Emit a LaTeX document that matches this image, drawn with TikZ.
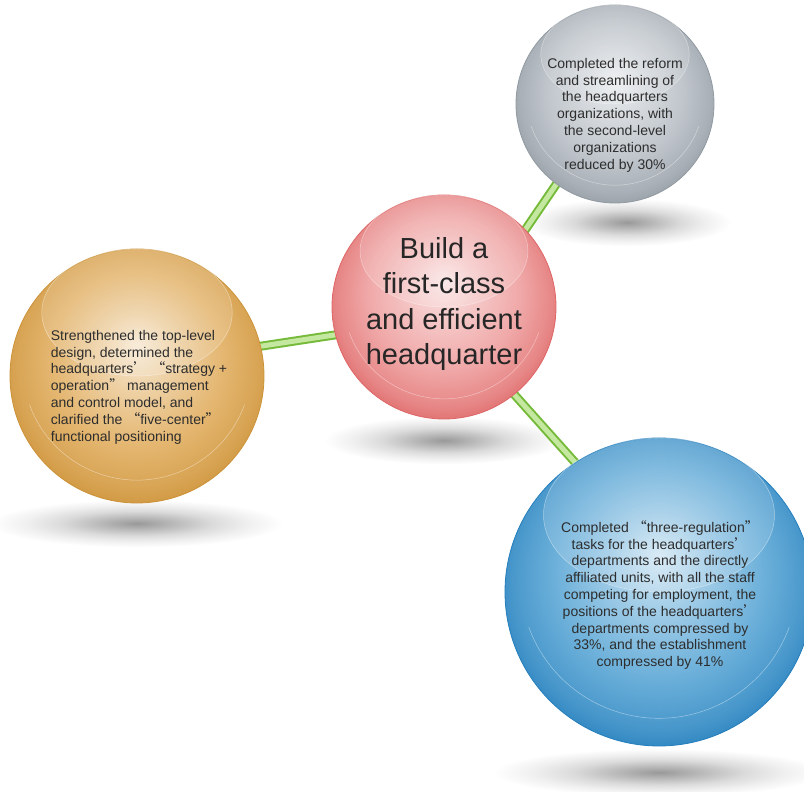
\documentclass[tikz,border=0pt]{standalone}
\usepackage{fontspec}
\setmainfont{Liberation Sans}
\newfontfamily\cjk{Noto Sans CJK SC}
\usetikzlibrary{positioning}
\pgfdeclarelayer{back}
\pgfsetlayers{back,main}
\definecolor{redmid}{RGB}{240,168,168}
\definecolor{redrim}{RGB}{222,102,102}
\definecolor{graymid}{RGB}{192,198,204}
\definecolor{grayrim}{RGB}{146,154,162}
\definecolor{orangemid}{RGB}{228,182,112}
\definecolor{orangerim}{RGB}{204,146,56}
\definecolor{bluemid}{RGB}{108,176,218}
\definecolor{bluerim}{RGB}{36,126,188}
\definecolor{stemgreen}{RGB}{118,186,58}
\definecolor{stemlight}{RGB}{196,232,160}
\definecolor{textgray}{RGB}{45,45,45}
\colorlet{ballmid}{white}
\colorlet{ballrim}{gray}
\pgfdeclareradialshading[ballmid,ballrim]{sphereshade}{\pgfpoint{0bp}{6bp}}{color(0bp)=(ballmid!30!white); color(8bp)=(ballmid!65!white); color(17bp)=(ballmid); color(24bp)=(ballrim!50!ballmid); color(28.5bp)=(ballrim); color(35bp)=(ballrim)}
\pgfdeclareradialshading{shadowfade}{\pgfpoint{0bp}{0bp}}{color(0bp)=(black!40); color(6bp)=(black!28); color(13bp)=(black!14); color(19bp)=(black!6); color(23bp)=(black!2); color(25bp)=(white); color(50bp)=(white)}
\newcommand\qopen{{\cjk “}}
\newcommand\qclose{{\cjk ”}}
\newcommand\qapos{{\cjk ’}}
\tikzset{
  ball colors/.code 2 args={\colorlet{ballmid}{#1}\colorlet{ballrim}{#2}},
  sphere/.style n args={3}{circle, inner sep=0pt, minimum size=#1, ball colors={#2}{#3},
    shading=sphereshade, draw=ballrim, line width=0.8pt},
  gloss/.style={fill=white, fill opacity=0.15, draw=white, draw opacity=0.45, line width=0.5pt},
  rimline/.style={draw=white, draw opacity=0.45, line width=0.5pt},
  stem/.style={line width=2pt, draw=stemgreen, double=stemlight, double distance=5pt},
  balltext/.style={align=center, inner sep=0pt, text=textgray, font=\fontsize{14}{16.8}\selectfont},
  hqtext/.style={align=center, inner sep=0pt, text=black!85, font=\fontsize{29}{35.5}\selectfont}
}
\begin{document}
\begin{tikzpicture}[x=1pt,y=1pt]
\useasboundingbox (0,0) rectangle (804,792);
\node[sphere={224pt}{redmid}{redrim}] (hq) at (444,485) {};
\node[sphere={198pt}{graymid}{grayrim}] (reform) at (615,688) {};
\node[sphere={254pt}{orangemid}{orangerim}] (design) at (137,416) {};
\node[sphere={308pt}{bluemid}{bluerim}] (staff) at (659,200) {};
\foreach \n/\r in {hq/112,reform/99,design/127,staff/154} {
  \filldraw[gloss] ([yshift=0.5*\r pt]\n.center) ellipse [x radius=0.75*\r pt, y radius=0.5*\r pt];
  \draw[rimline] ([yshift=0.08*\r pt]\n.center) ++(200:{0.9*\r pt}) arc [start angle=200, end angle=340, radius=0.9*\r pt];
}
\node[hqtext] (hq lbl) at ([yshift=3pt]hq.center) {Build a\\first-class\\and efficient\\headquarter};
\node[balltext] (reform lbl) at ([yshift=-11pt]reform.center) {Completed the reform\\and streamlining of\\the headquarters\\organizations, with\\the second-level\\organizations\\reduced by 30\%};
\node[balltext, align=left] (design lbl) at ([xshift=2pt,yshift=-11pt]design.center) {Strengthened the top-level\\design, determined the\\headquarters\qapos{} \qopen strategy +\\operation\qclose{} management\\and control model, and\\clarified the \qopen five-center\qclose\\functional positioning};
\node[balltext] (staff lbl) at ([xshift=1pt,yshift=-3pt]staff.center) {Completed \qopen three-regulation\qclose\\tasks for the headquarters\qapos\\departments and the directly\\affiliated units, with all the staff\\competing for employment, the\\positions of the headquarters\qapos\\departments compressed by\\33\%, and the establishment\\compressed by 41\%};
\begin{pgfonlayer}{back}
\foreach \n/\dx/\rx/\dy in {hq/0/120/21,reform/12/104/19,design/0/146/20,staff/0/166/26}
  \shade[shading=shadowfade] ([xshift=\dx pt,yshift=-\dy pt]\n.south) ellipse [x radius=\rx pt, y radius=24pt];
\draw[stem] ([shift={(26,-4)}]hq.center) -- ([shift={(-15,-16)}]reform.center);
\draw[stem] ([shift={(-24,-15)}]hq.center) -- ([shift={(33,16)}]design.center);
\draw[stem] ([shift={(26,-38)}]hq.center) -- ([shift={(-19,57)}]staff.center);
\end{pgfonlayer}
\end{tikzpicture}
\end{document}
